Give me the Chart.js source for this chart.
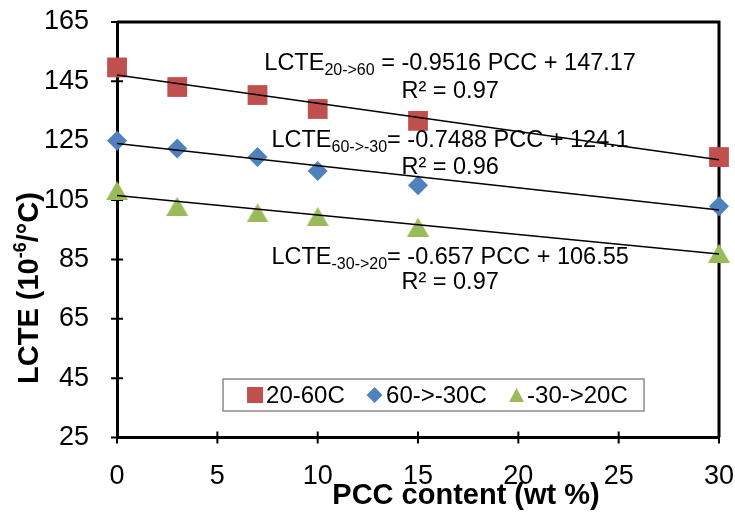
<!DOCTYPE html>
<html>
<head>
<meta charset="utf-8">
<script src="https://cdn.jsdelivr.net/npm/chart.js@4/dist/chart.umd.min.js"></script>
<style>
  html, body { margin: 0; padding: 0; background: #fff; }
</style>
</head>
<body>
<canvas id="chart" width="735" height="517"></canvas>
<script>
// PCC content (wt %) and measured LCTE (10^-6/°C)
const pcc        = [0, 3, 7, 10, 15, 30];
const lcte20to60 = [149.7, 143.1, 140.4, 135.7, 131.7, 119.5];
const lcte60toM30 = [125.0, 122.4, 119.5, 114.8, 110.0, 102.9];
const lcteM30to20 = [108.2, 102.9, 100.7, 99.5, 95.9, 87.1];

// linear trend lines, value at x = 0 and x = 30
const trendX       = [0, 30];
const trend20to60  = [147.17, 118.62];
const trend60toM30 = [124.1, 101.64];
const trendM30to20 = [106.55, 86.84];

const seriesNames = ['20-60C', '60->-30C', '-30->20C'];
const xTicks = [0, 5, 10, 15, 20, 25, 30];
const yTicks = [25, 45, 65, 85, 105, 125, 145, 165];

const FONT = "'Liberation Sans', Arial, sans-serif";
const RED = '#C0504D', BLUE = '#4F81BD', GREEN = '#9BBB59';

const pts = (xs, ys) => xs.map((x, i) => ({ x, y: ys[i] }));

// triangle marker centred on its bounding box (like the spreadsheet marker)
function triangleImg(w, h, color) {
  const c = document.createElement('canvas');
  c.width = w; c.height = h;
  const g = c.getContext('2d');
  g.fillStyle = color;
  g.beginPath();
  g.moveTo(w / 2, 0); g.lineTo(w, h); g.lineTo(0, h); g.closePath();
  g.fill();
  return c;
}
const triMarker = triangleImg(22, 19, GREEN);

// text with a subscript part
function subText(ctx, cx, cy, main, sub, rest, size, subSize) {
  ctx.font = size + 'px ' + FONT;
  const w1 = ctx.measureText(main).width, w3 = ctx.measureText(rest).width;
  ctx.font = subSize + 'px ' + FONT;
  const w2 = ctx.measureText(sub).width;
  let x = cx - (w1 + w2 + w3) / 2;
  const base = cy + size * 0.36;
  ctx.textAlign = 'left'; ctx.textBaseline = 'alphabetic';
  ctx.font = size + 'px ' + FONT; ctx.fillText(main, x, base); x += w1;
  ctx.font = subSize + 'px ' + FONT; ctx.fillText(sub, x, base + 5); x += w2;
  ctx.font = size + 'px ' + FONT; ctx.fillText(rest, x, base);
}

const equations = [
  { x: 16.6, y: 151.7, main: 'LCTE', sub: '20->60', rest: ' = -0.9516 PCC + 147.17' },
  { x: 16.6, y: 142.2, main: 'R² = 0.97', sub: '', rest: '' },
  { x: 16.6, y: 125.9, main: 'LCTE', sub: '60->-30', rest: '= -0.7488 PCC + 124.1' },
  { x: 16.6, y: 116.6, main: 'R² = 0.96', sub: '', rest: '' },
  { x: 16.6, y: 86.4,  main: 'LCTE', sub: '-30->20', rest: '= -0.657 PCC + 106.55' },
  { x: 16.6, y: 78.0,  main: 'R² = 0.97', sub: '', rest: '' }
];

const framePlugin = {
  id: 'frame',
  beforeDatasetsDraw(chart) {
    const { ctx, chartArea: a, scales: { x, y } } = chart;
    ctx.save();
    ctx.strokeStyle = '#000';
    ctx.lineWidth = 3;
    ctx.beginPath();
    ctx.moveTo(a.left, a.top); ctx.lineTo(a.right, a.top); ctx.lineTo(a.right, a.bottom);
    ctx.stroke();
    // crossing tick marks
    ctx.lineWidth = 2;
    ctx.beginPath();
    xTicks.forEach(v => { const p = x.getPixelForValue(v); ctx.moveTo(p, a.bottom + 6); ctx.lineTo(p, a.bottom - 6); });
    yTicks.forEach(v => { const p = y.getPixelForValue(v); ctx.moveTo(a.left - 6, p); ctx.lineTo(a.left + 6, p); });
    ctx.stroke();
    ctx.restore();
  },
  afterDraw(chart) {
    const { ctx, chartArea: a, scales: { x, y } } = chart;
    ctx.save();
    ctx.fillStyle = '#000';
    equations.forEach(e => subText(ctx, x.getPixelForValue(e.x), y.getPixelForValue(e.y), e.main, e.sub, e.rest, 23.5, 16));

    // x axis title
    ctx.font = 'bold 29px ' + FONT;
    ctx.textAlign = 'center'; ctx.textBaseline = 'middle';
    ctx.fillText('PCC content (wt %)', 466, 496);

    // y axis title with superscript
    ctx.translate(27, 288);
    ctx.rotate(-Math.PI / 2);
    const big = 'bold 29px ' + FONT, small = 'bold 18px ' + FONT;
    ctx.font = big; const p1 = 'LCTE (10', p3 = '/°C)';
    const w1 = ctx.measureText(p1).width, w3 = ctx.measureText(p3).width;
    ctx.font = small; const w2 = ctx.measureText('-6').width;
    let tx = -(w1 + w2 + w3) / 2;
    ctx.textBaseline = 'alphabetic'; ctx.textAlign = 'left';
    ctx.font = big; ctx.fillText(p1, tx, 10.5); tx += w1;
    ctx.font = small; ctx.fillText('-6', tx, -1.5); tx += w2;
    ctx.font = big; ctx.fillText(p3, tx, 10.5);
    ctx.restore();

    // legend box inside plot area
    ctx.save();
    const lx = a.left + 106, ly = a.top + 357, lw = 421, lh = 32;
    ctx.fillStyle = '#fff';
    ctx.fillRect(lx, ly, lw, lh);
    ctx.strokeStyle = '#8c8c8c'; ctx.lineWidth = 1.5;
    ctx.strokeRect(lx, ly, lw, lh);
    const cy = ly + 16;
    ctx.fillStyle = RED; ctx.fillRect(lx + 24, cy - 8, 16, 16);
    ctx.fillStyle = BLUE; ctx.beginPath();
    ctx.moveTo(lx + 151.5, cy - 8); ctx.lineTo(lx + 159.5, cy); ctx.lineTo(lx + 151.5, cy + 8); ctx.lineTo(lx + 143.5, cy);
    ctx.closePath(); ctx.fill();
    ctx.fillStyle = GREEN; ctx.beginPath();
    ctx.moveTo(lx + 293.5, cy - 7); ctx.lineTo(lx + 301, cy + 7); ctx.lineTo(lx + 286, cy + 7);
    ctx.closePath(); ctx.fill();
    ctx.fillStyle = '#000'; ctx.font = '24px ' + FONT; ctx.textBaseline = 'middle'; ctx.textAlign = 'left';
    ctx.fillText(seriesNames[0], lx + 43, cy + 1);
    ctx.fillText(seriesNames[1], lx + 163, cy + 1);
    ctx.fillText(seriesNames[2], lx + 304, cy + 1);
    ctx.restore();
  }
};

const trendStyle = { showLine: true, borderColor: '#000', borderWidth: 1.5, pointRadius: 0, fill: false, order: 0, clip: false };
const markStyle = { borderWidth: 0, order: 1, clip: false };
// invisible tick length used as the gap between axis and labels
const axisGrid = gap => ({ drawOnChartArea: false, drawTicks: true, tickLength: gap, tickColor: 'rgba(0,0,0,0)' });

new Chart(document.getElementById('chart'), {
  type: 'scatter',
  data: {
    datasets: [
      { label: 'trend1', data: pts(trendX, trend20to60), ...trendStyle },
      { label: 'trend2', data: pts(trendX, trend60toM30), ...trendStyle },
      { label: 'trend3', data: pts(trendX, trendM30to20), ...trendStyle },
      { label: seriesNames[0], data: pts(pcc, lcte20to60), pointStyle: 'rect', pointRadius: 14,
        backgroundColor: RED, borderColor: RED, ...markStyle },
      { label: seriesNames[1], data: pts(pcc, lcte60toM30), pointStyle: 'rectRot', pointRadius: 10,
        backgroundColor: BLUE, borderColor: BLUE, ...markStyle },
      { label: seriesNames[2], data: pts(pcc, lcteM30to20), pointStyle: triMarker, pointRadius: 11,
        backgroundColor: GREEN, borderColor: GREEN, ...markStyle }
    ]
  },
  options: {
    responsive: false,
    animation: false,
    layout: { padding: { left: 44, right: 16, top: 22, bottom: 24 } },
    plugins: { legend: { display: false }, tooltip: { enabled: false } },
    scales: {
      x: {
        type: 'linear', min: 0, max: 30,
        afterBuildTicks: s => { s.ticks = xTicks.map(v => ({ value: v })); },
        ticks: { color: '#000', font: { family: FONT, size: 27 }, padding: 0, maxRotation: 0 },
        grid: axisGrid(23),
        border: { color: '#000', width: 3 }
      },
      y: {
        type: 'linear', min: 25, max: 165,
        afterBuildTicks: s => { s.ticks = yTicks.map(v => ({ value: v })); },
        ticks: { color: '#000', font: { family: FONT, size: 27 }, padding: 0 },
        grid: axisGrid(28),
        border: { color: '#000', width: 3 }
      }
    }
  },
  plugins: [framePlugin]
});
</script>
</body>
</html>
